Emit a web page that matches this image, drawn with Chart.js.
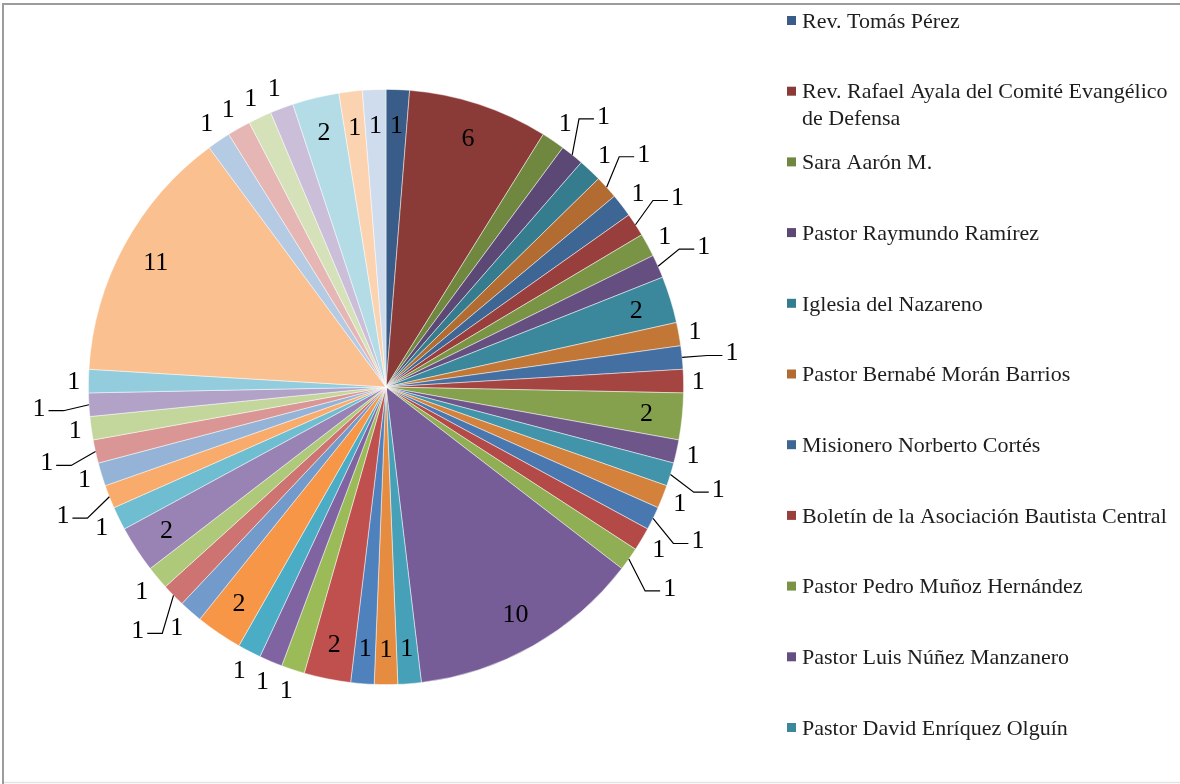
<!DOCTYPE html>
<html>
<head>
<meta charset="utf-8">
<script src="https://cdn.jsdelivr.net/npm/chart.js@4/dist/chart.umd.min.js"></script>
<style>
html,body{margin:0;padding:0;background:#fff;}
#wrap{width:1180px;height:784px;position:relative;overflow:hidden;}
</style>
</head>
<body>
<div id="wrap"><canvas id="c" width="1180" height="784"></canvas></div>
<script>
// Named categories visible in the legend (the remaining slices are unnamed in the picture)
const categories = [
  'Rev. Tomás Pérez',
  'Rev. Rafael Ayala del Comité Evangélico de Defensa',
  'Sara Aarón M.',
  'Pastor Raymundo Ramírez',
  'Iglesia del Nazareno',
  'Pastor Bernabé Morán Barrios',
  'Misionero Norberto Cortés',
  'Boletín de la Asociación Bautista Central',
  'Pastor Pedro Muñoz Hernández',
  'Pastor Luis Núñez Manzanero',
  'Pastor David Enríquez Olguín'
];
// Slice values, clockwise from 12 o'clock
const values = [1,6,1,1,1,1,1,1,1,1,2,1,1,1,2,1,1,1,1,1,1,10,1,1,1,2,1,1,1,2,1,1,1,2,1,1,1,1,1,1,1,11,1,1,1,1,2,1,1];

const baseColors = ['#4F81BD','#C0504D','#9BBB59','#8064A2','#4BACC6','#F79646'];
const shadeFactors = [0.72,0.79,0.86,0.93,1.0];
const tintFactors = [0.2,0.4,0.58,0.72];

function hexToRgb(h){const n=parseInt(h.slice(1),16);return [(n>>16)&255,(n>>8)&255,n&255];}
function variant(i){
  const rgb = hexToRgb(baseColors[i%6]);
  const k = Math.floor(i/6);
  let out;
  if (k < shadeFactors.length) { const f = shadeFactors[k]; out = rgb.map(v=>Math.round(v*f)); }
  else { const t = tintFactors[Math.min(k-shadeFactors.length, tintFactors.length-1)]; out = rgb.map(v=>Math.round(v+(255-v)*t)); }
  return 'rgb('+out.join(',')+')';
}
const colors = values.map((v,i)=>variant(i));
const labels = values.map((v,i)=>categories[i] !== undefined ? categories[i] : '');

const LABEL_FONT = '26px "Liberation Serif", "Times New Roman", serif';
const LEGEND_FONT = '22px "Liberation Serif", "Times New Roman", serif';

const framePlugin = {
  id:'frame',
  beforeDraw(chart){
    const c = chart.ctx;
    c.save();
    c.fillStyle = '#fff';
    c.fillRect(0,0,chart.width,chart.height);
    c.restore();
  },
  afterDraw(chart){
    const c = chart.ctx;
    c.save();
    c.strokeStyle = '#9c9c9c';
    c.lineWidth = 2;
    c.beginPath();
    c.moveTo(3, chart.height);
    c.lineTo(3, 4);
    c.lineTo(chart.width, 4);
    c.stroke();
    c.strokeStyle = '#e4e4e4';
    c.lineWidth = 1.5;
    c.beginPath();
    c.moveTo(4, 782.5);
    c.lineTo(chart.width, 782.5);
    c.stroke();
    c.restore();
  }
};

const dataLabelPlugin = {
  id:'dataLabels',
  afterDatasetsDraw(chart){
    const c = chart.ctx;
    const meta = chart.getDatasetMeta(0);
    const ds = chart.data.datasets[0].data;
    c.save();
    c.font = LABEL_FONT;
    c.fillStyle = '#000';
    c.strokeStyle = '#000';
    c.lineWidth = 1.2;
    c.textAlign = 'center';
    c.textBaseline = 'middle';
    const placed = [];
    const overlaps = (b)=>placed.some(p=>Math.abs(p.x-b.x) < (p.w+b.w)/2 && Math.abs(p.y-b.y) < (p.h+b.h)/2);
    meta.data.forEach((arc,i)=>{
      const txt = String(ds[i]);
      const p = arc.getProps(['x','y','startAngle','endAngle','outerRadius'], true);
      const R = p.outerRadius, cx = p.x, cy = p.y;
      const mid = (p.startAngle + p.endAngle)/2;
      const cs = Math.cos(mid), sn = Math.sin(mid);
      const tw = c.measureText(txt).width;
      // inside fit test
      const ri = R*0.88;
      const ix = cx + cs*ri, iy = cy + sn*ri;
      const hw = tw/2 + 2, hh = 12;
      let fits = true;
      for (const [dx,dy] of [[-hw,-hh],[hw,-hh],[-hw,hh],[hw,hh]]) {
        const qx = ix+dx-cx, qy = iy+dy-cy;
        let a = Math.atan2(qy,qx);
        while (a < p.startAngle) a += 2*Math.PI;
        while (a >= p.startAngle + 2*Math.PI) a -= 2*Math.PI;
        if (a > p.endAngle || Math.hypot(qx,qy) > R) fits = false;
      }
      if (fits) {
        c.fillText(txt, ix, iy+1);
        placed.push({x:ix,y:iy,w:tw+8,h:26});
        return;
      }
      // near outside
      const rn = R + 8 + Math.abs(cs)*tw/2 + Math.abs(sn)*12;
      const nb = {x:cx+cs*rn, y:cy+sn*rn, w:tw+8, h:26};
      if (!overlaps(nb)) {
        c.fillText(txt, nb.x, nb.y+1);
        placed.push(nb);
        return;
      }
      // far outside with leader line
      let rf = R + 50, fb;
      for (let t=0;t<4;t++){
        fb = {x:cx+cs*rf, y:cy+sn*rf, w:tw+8, h:26};
        if (!overlaps(fb)) break;
        rf += 20;
      }
      const side = cs >= 0 ? 1 : -1;
      const ex = cx + cs*R, ey = cy + sn*R;
      const kx = fb.x - side*(tw/2 + 18), ky = fb.y + 3;
      const hx = fb.x - side*(tw/2 + 3);
      c.beginPath();
      c.moveTo(ex, ey);
      c.lineTo(kx, ky);
      c.lineTo(hx, ky);
      c.stroke();
      c.fillText(txt, fb.x, fb.y+1);
      placed.push(fb);
    });
    c.restore();
  }
};

const legendPlugin = {
  id:'sideLegend',
  afterDraw(chart){
    const c = chart.ctx;
    const bg = chart.data.datasets[0].backgroundColor;
    const startY = 21, step = 70.7, boxX = 787, textX = 802, maxW = 374, lineH = 27;
    c.save();
    c.font = LEGEND_FONT;
    c.textAlign = 'left';
    c.textBaseline = 'middle';
    let y = startY;
    for (let i=0; i<chart.data.labels.length && y < 760; i++, y += step) {
      const name = chart.data.labels[i];
      if (!name) continue;
      c.fillStyle = bg[i];
      c.fillRect(boxX, y-5, 9, 9);
      // wrap
      const words = name.split(' ');
      const lines = [];
      let cur = '';
      for (const w of words) {
        const test = cur ? cur + ' ' + w : w;
        if (c.measureText(test).width > maxW && cur) { lines.push(cur); cur = w; }
        else cur = test;
      }
      if (cur) lines.push(cur);
      c.fillStyle = '#1e1e1e';
      lines.forEach((ln,j)=>c.fillText(ln, textX, y + 1 + j*lineH));
    }
    c.restore();
  }
};

new Chart(document.getElementById('c').getContext('2d'), {
  type:'pie',
  data:{
    labels: labels,
    datasets:[{
      data: values,
      backgroundColor: colors,
      borderColor: 'rgba(255,255,255,0.6)',
      borderWidth: 0.8,
      hoverOffset: 0
    }]
  },
  options:{
    responsive:false,
    animation:false,
    events:[],
    layout:{padding:{left:88,right:496,top:88,bottom:98}},
    plugins:{legend:{display:false}, tooltip:{enabled:false}}
  },
  plugins:[framePlugin, dataLabelPlugin, legendPlugin]
});
</script>
</body>
</html>
